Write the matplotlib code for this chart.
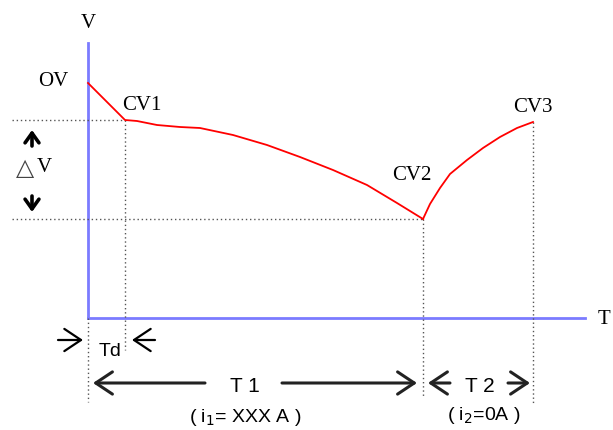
import numpy as np
import matplotlib.pyplot as plt

# time (px from V axis) and voltage (px above T axis)
t_dis = [0, 37, 49, 69, 92, 112, 145, 179, 212, 245, 279, 309, 335]
v_dis = [235, 198, 197, 193, 191, 190, 183, 173, 161, 148, 133, 115, 99]
t_rest = [335, 342, 352, 362, 379, 395, 412, 429, 445]
v_rest = [99, 114, 130, 144, 158, 170, 181, 190, 196]

t_cv1, v_cv1 = t_dis[1], v_dis[1]
t_cv2, v_cv2 = t_dis[-1], v_dis[-1]
t_cv3, v_cv3 = t_rest[-1], v_rest[-1]

serif = 'Liberation Serif'
sans = 'Liberation Sans'
blue = '#7b7bff'
dot = dict(color='#555555', lw=1, ls=(0, (1, 2)))

fig = plt.figure(figsize=(6.13, 4.30), dpi=100)
ax = fig.add_axes([0, 0, 1, 1])
ax.set_xlim(-88, 525)
ax.set_ylim(-112, 318)
ax.axis('off')

# axes
ax.plot([0, 0], [0, 275], color=blue, lw=2)
ax.plot([0, 497], [0, 0], color=blue, lw=2)
ax.text(0, 294, 'V', family=serif, fontsize=15, ha='center', va='center')
ax.text(516, -2, 'T', family=serif, fontsize=15, ha='center', va='center')

# guide lines
ax.plot([-76, t_cv1], [v_cv1, v_cv1], **dot)
ax.plot([-76, t_cv2], [v_cv2, v_cv2], **dot)
ax.plot([t_cv1, t_cv1], [v_cv1, -32], **dot)
ax.plot([0, 0], [0, -84], **dot)
ax.plot([t_cv2, t_cv2], [v_cv2, -80], **dot)
ax.plot([t_cv3, t_cv3], [v_cv3, -87], **dot)

# curve
ax.plot(t_dis, v_dis, color='red', lw=1.3)
ax.plot(t_rest, v_rest, color='red', lw=1.3)

ax.text(-35, 237, 'OV', family=serif, fontsize=15, ha='center', va='center')
ax.text(54, 212, 'CV1', family=serif, fontsize=15, ha='center', va='center')
ax.text(324, 142, 'CV2', family=serif, fontsize=15, ha='center', va='center')
ax.text(445, 211, 'CV3', family=serif, fontsize=15, ha='center', va='center')

# delta V
arr = dict(arrowstyle='->,head_length=0.35,head_width=0.25', color='black',
           lw=2.6, mutation_scale=20, shrinkA=0, shrinkB=0)
ax.annotate('', xy=(-56, 188), xytext=(-56, 172), arrowprops=arr)
ax.annotate('', xy=(-56, 106), xytext=(-56, 122), arrowprops=arr)
ax.text(-63, 150, '\u25b3', family='DejaVu Sans', fontsize=17, ha='center', va='center', color='#444444')
ax.text(-44, 151, 'V', family=serif, fontsize=15, ha='center', va='center')

# Td
chev = dict(arrowstyle='->,head_length=0.6,head_width=0.4', color='black', lw=1.6,
            mutation_scale=20, shrinkA=0, shrinkB=0)
ax.annotate('', xy=(-5, -22), xytext=(-30, -22), arrowprops=chev)
ax.annotate('', xy=(44, -22), xytext=(67, -22), arrowprops=chev)
ax.text(22, -34, 'Td', family=sans, fontsize=14, ha='center', va='center')

# T1
big = dict(arrowstyle='->,head_length=0.6,head_width=0.4', color='#222222', lw=2.2,
           mutation_scale=20, shrinkA=0, shrinkB=0)
ax.annotate('', xy=(5, -65), xytext=(117, -65), arrowprops=big)
ax.annotate('', xy=(329, -65), xytext=(194, -65), arrowprops=big)
ax.text(157, -68, 'T 1', family=sans, fontsize=15, ha='center', va='center')
ax.text(157, -100, '( i$_1$= XXX A )', family=sans, fontsize=14, ha='center', va='center')

# T2
ax.annotate('', xy=(340, -65), xytext=(362, -65), arrowprops=big)
ax.annotate('', xy=(442, -65), xytext=(420, -65), arrowprops=big)
ax.text(392, -68, 'T 2', family=sans, fontsize=15, ha='center', va='center')
ax.text(396, -97, '( i$_2$=0A )', family=sans, fontsize=14, ha='center', va='center')

fig.savefig('out.png', dpi=100)
